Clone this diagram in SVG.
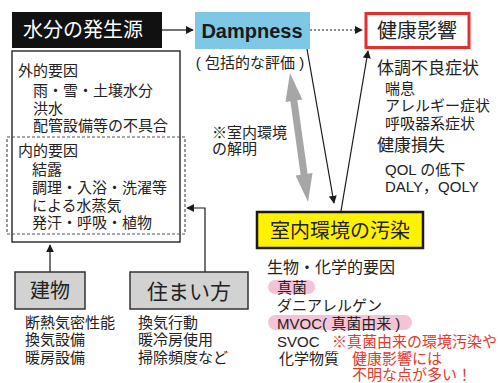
<svg xmlns="http://www.w3.org/2000/svg" width="499" height="383" viewBox="0 0 499 383">
<defs>
<style>
text{font-family:"Liberation Sans","Noto Sans CJK JP",sans-serif;fill:#222;dominant-baseline:central}
.t15{font-size:15px}
.t16{font-size:16px}
.t17{font-size:17px}
.t20{font-size:20px}
.red{fill:#e23a2e}
.c{text-anchor:middle}
.ln{fill:none;stroke:#1a1a1a;stroke-width:1.2}
.gbox{fill:#d2d2d2;stroke:#333;stroke-width:1.5}
.pill{fill:#f4c4d6}
</style>
<marker id="ah" viewBox="0 0 10 10" refX="9" refY="5" markerWidth="8" markerHeight="8" markerUnits="userSpaceOnUse" orient="auto">
<path d="M0,0 L10,5 L0,10 z" fill="#1a1a1a"/>
</marker>
</defs>
<rect width="499" height="383" fill="#ffffff"/>

<g id="connectors">
<path class="ln" d="M162,30 H193" marker-end="url(#ah)"/>
<path class="ln" d="M310,30 H362" stroke-dasharray="2,2" marker-end="url(#ah)"/>
<path class="ln" d="M307,49 L334,203" marker-end="url(#ah)"/>
<path class="ln" d="M341,211 L368,51" marker-end="url(#ah)"/>
<path d="M290,73 L302.3,99.5 L297.4,100.2 L307.6,173.8 L312.5,173.1 L308,202 L295.7,175.5 L300.6,174.8 L290.4,101.2 L285.5,101.9 Z" fill="#a6a6a6"/>
<path class="ln" d="M50,272 V245" marker-end="url(#ah)"/>
<path class="ln" d="M205,272 V208 H187" marker-end="url(#ah)"/>
</g>

<g id="source">
<rect x="12" y="12" width="150" height="36" fill="#111"/>
<text class="t20" x="23" y="30" style="fill:#fff">水分の発生源</text>
</g>

<g id="dampness">
<rect x="195" y="12" width="115" height="37" fill="#7ec8e6"/>
<text x="252" y="31" class="c" style="font-size:20px;font-weight:bold;fill:#1a1a1a">Dampness</text>
<text class="t15 c" x="250" y="62">( 包括的な評価 )</text>
</g>

<g id="health">
<rect x="366" y="13.5" width="103" height="34" fill="#fff" stroke="#e03030" stroke-width="3"/>
<text class="t20 c" x="417" y="31">健康影響</text>
<text class="t17" x="377" y="68">体調不良症状</text>
<text class="t15" x="385" y="88">喘息</text>
<text class="t15" x="385" y="105">アレルギー症状</text>
<text class="t15" x="385" y="123">呼吸器系症状</text>
<text class="t17" x="377" y="145">健康損失</text>
<text class="t15" x="385" y="169">QOL の低下</text>
<text class="t15" x="385" y="186">DALY，QOLY</text>
</g>

<g id="factors">
<rect x="12" y="51" width="168" height="191" fill="none" stroke="#333" stroke-width="1.5"/>
<rect x="7" y="137" width="178" height="97" fill="none" stroke="#555" stroke-width="1.2" stroke-dasharray="3,2"/>
<text class="t15" x="18" y="70">外的要因</text>
<text class="t15" x="33" y="90">雨・雪・土壌水分</text>
<text class="t15" x="33" y="108">洪水</text>
<text class="t15" x="33" y="125">配管設備等の不具合</text>
<text class="t15" x="18" y="150">内的要因</text>
<text class="t15" x="32" y="169">結露</text>
<text class="t15" x="32" y="187">調理・入浴・洗濯等</text>
<text class="t15" x="32" y="205">による水蒸気</text>
<text class="t15" x="32" y="222">発汗・呼吸・植物</text>
</g>

<g id="note">
<text class="t15" x="212" y="132">※室内環境</text>
<text class="t15" x="212" y="148">の解明</text>
</g>

<g id="pollution">
<rect x="257" y="212" width="166" height="36" fill="#fff200" stroke="#1a1a1a" stroke-width="2.5"/>
<text class="t20 c" x="340" y="231">室内環境の汚染</text>
<text class="t16" x="267" y="267">生物・化学的要因</text>
<rect class="pill" x="268" y="280" width="47" height="14" rx="7"/>
<text class="t15" x="277" y="287">真菌</text>
<text class="t15" x="277" y="305">ダニアレルゲン</text>
<rect class="pill" x="268" y="315" width="144" height="15" rx="7.5"/>
<text class="t15" x="277" y="323">MVOC( 真菌由来 )</text>
<text class="t15" x="277" y="341">SVOC</text>
<text class="t15" x="279" y="358">化学物質</text>
<text class="t15 red" x="332" y="341">※真菌由来の環境汚染や</text>
<text class="t15 red" x="352" y="358">健康影響には</text>
<text class="t15 red" x="352" y="374">不明な点が多い！</text>
</g>

<g id="building">
<rect class="gbox" x="15" y="272" width="70" height="37"/>
<text class="t20 c" x="50" y="291">建物</text>
<text class="t15" x="25" y="322">断熱気密性能</text>
<text class="t15" x="25" y="339">換気設備</text>
<text class="t15" x="25" y="357">暖房設備</text>
</g>

<g id="living">
<rect class="gbox" x="130" y="272" width="118" height="37"/>
<text class="c" x="189" y="291" style="font-size:21px">住まい方</text>
<text class="t15" x="138" y="322">換気行動</text>
<text class="t15" x="138" y="339">暖冷房使用</text>
<text class="t15" x="138" y="357">掃除頻度など</text>
</g>
</svg>
